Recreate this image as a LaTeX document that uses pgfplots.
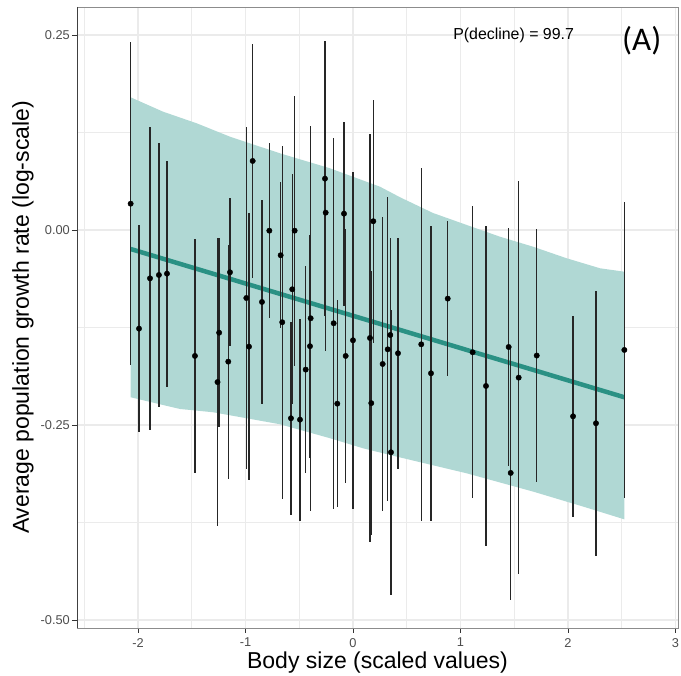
\documentclass[border=0pt]{standalone}
\usepackage{pgfplots}
\pgfplotsset{compat=1.18}
\usepackage{pgfplotstable}
\usepackage{fontspec}
\setmainfont{Liberation Sans}
\newfontfamily\afont{Carlito}
\definecolor{ribbon}{HTML}{B0D8D4}
\definecolor{fitline}{HTML}{2A9184}
\definecolor{gridc}{HTML}{EBEBEB}
\definecolor{tickc}{HTML}{4D4D4D}
\pgfplotstableread{
x y e
-2.068 0.0337 0.207
-1.990 -0.1265 0.1325
-1.888 -0.062 0.194
-1.805 -0.0577 0.169
-1.730 -0.056 0.145
-1.470 -0.1615 0.150
-1.245 -0.1317 0.121
-1.260 -0.195 0.185
-1.144 -0.0542 0.095
-1.160 -0.1688 0.150
-0.992 -0.0872 0.219
-0.933 0.0885 0.150
-0.967 -0.1496 0.171
-0.8465 -0.0923 0.131
-0.778 -0.0009 0.112
-0.6726 -0.0324 0.0936
-0.658 -0.1183 0.226
-0.5426 -0.0009 0.173
-0.565 -0.076 0.1474
-0.577 -0.2414 0.124
-0.493 -0.2432 0.1296
-0.440 -0.179 0.133
-0.3937 -0.1132 0.2465
-0.400 -0.149 0.143
-0.2605 0.0658 0.1765
-0.254 0.0222 0.1774
-0.1797 -0.1196 0.238
-0.146 -0.2227 0.133
-0.0837 0.0209 0.118
-0.068 -0.1615 0.163
0.000 -0.1414 0.216
0.158 -0.1385 0.2615
0.189 0.0112 0.156
0.170 -0.222 0.169
0.276 -0.1718 0.188
0.323 -0.153 0.195
0.347 -0.1346 0.124
0.3535 -0.285 0.183
0.4186 -0.158 0.148
0.635 -0.1466 0.226
0.7256 -0.1837 0.189
0.881 -0.088 0.0995
1.113 -0.1568 0.187
1.237 -0.200 0.205
1.448 -0.150 0.152
1.467 -0.3115 0.163
1.541 -0.1893 0.2515
1.709 -0.161 0.162
2.047 -0.2389 0.129
2.26 -0.2478 0.170
2.524 -0.1538 0.190
}\pts
\begin{document}
\begin{tikzpicture}
\begin{axis}[
  scale only axis, width=601pt, height=621pt,
  xmin=-2.567, xmax=3.023, ymin=-0.5103, ymax=0.2859,
  xtick={-2,-1,0,1,2,3},
  xticklabels={-2,-1,0,1,2,3},
  ytick={-0.5,-0.25,0,0.25},
  yticklabels={-0.50,-0.25,0.00,0.25},
  minor xtick={-2.5,-1.5,-0.5,0.5,1.5,2.5},
  minor ytick={-0.375,-0.125,0.125},
  grid=both,
  major grid style={draw=gridc, line width=1.1pt},
  minor grid style={draw=gridc, line width=0.55pt},
  tick align=outside, xtick pos=lower, ytick pos=left,
  major tick length=5pt, minor tick length=0pt,
  major tick style={draw=black!80, line width=0.9pt},
  axis line style={draw=black!45, line width=0.9pt},
  tick label style={font=\fontsize{12.8}{14}\selectfont, text=tickc},
  xticklabel style={inner sep=0pt, yshift=-5pt},
  yticklabel style={inner sep=0pt, xshift=-2pt},
  /pgf/number format/assume math mode=true,
  xlabel={Body size (scaled values)},
  ylabel={Average population growth rate (log-scale)},
  label style={font=\fontsize{23}{26}\selectfont},
  xlabel style={at={(axis description cs:0.5,-0.0564)}, anchor=center},
  ylabel style={at={(axis description cs:-0.0899,0.5)}, anchor=center},
  clip=true,
]
\addplot[fill=ribbon, draw=none] coordinates {
(-2.068,0.1701) (-1.767,0.1517) (-1.454,0.1368) (-1.144,0.1196) (-0.679,0.0983)
(-0.214,0.0791) (0.251,0.0555) (0.437,0.0420) (0.744,0.0218) (1.058,0.0064)
(1.367,-0.0086) (1.674,-0.0214) (1.988,-0.0363) (2.298,-0.0491) (2.524,-0.0535)
(2.524,-0.371) (2.142,-0.3547) (1.677,-0.3355) (1.058,-0.312) (0.407,-0.2906)
(0.096,-0.280) (-0.214,-0.267) (-0.679,-0.2491) (-0.989,-0.2414) (-1.302,-0.2337)
(-1.609,-0.2295) (-1.767,-0.2244) (-2.068,-0.2145)
} -- cycle;
\addplot[fitline, line width=4.5pt, no marks] coordinates {(-2.068,-0.0244) (2.524,-0.2145)};
\addplot[only marks, mark=*, mark size=2.7pt, black,
  error bars/.cd, y dir=both, y explicit, error mark=none,
  error bar style={line width=1.4pt, black!85}]
  table[x=x, y=y, y error=e] {\pts};
\draw[black!75, line width=0.9pt] (rel axis cs:0,1) -- (rel axis cs:0,0) -- (rel axis cs:1,0);
\node[font=\fontsize{15.9}{18}\selectfont] at (axis cs:1.494,0.249) {P(decline) = 99.7};
\node[font=\afont\fontsize{33}{36}\selectfont] at (axis cs:2.686,0.2427) {(A)};
\end{axis}
\pgfresetboundingbox
\path ([shift={(-77pt,-48pt)}]current axis.south west) rectangle ([shift={(3pt,7pt)}]current axis.north east);
\end{tikzpicture}
\end{document}
